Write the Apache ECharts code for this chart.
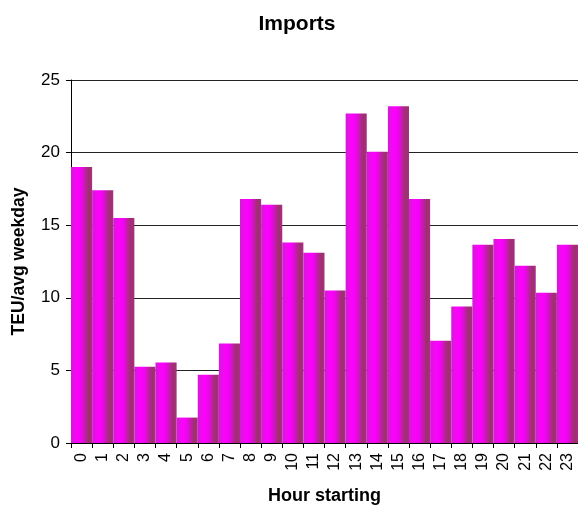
<!DOCTYPE html>
<html>
<head>
<meta charset="utf-8">
<script src="https://cdn.jsdelivr.net/npm/echarts@6/dist/echarts.min.js"></script>
<style>
html,body{margin:0;padding:0;background:#fff;}
#chart{width:578px;height:506px;}
</style>
</head>
<body>
<div id="chart"></div>
<script>
// Hourly imports, TEU per average weekday
const hours = ['0','1','2','3','4','5','6','7','8','9','10','11','12','13','14','15','16','17','18','19','20','21','22','23'];
const teu = [19.0, 17.4, 15.5, 5.25, 5.55, 1.75, 4.7, 6.85, 16.8, 16.4, 13.8, 13.1, 10.5, 22.7, 20.05, 23.2, 16.8, 7.05, 9.4, 13.65, 14.05, 12.2, 10.35, 13.65];
const yTicks = { min: 0, max: 25, step: 5 };

const font = 'Liberation Sans, Arial, sans-serif';
const barFill = new echarts.graphic.LinearGradient(0, 0, 1, 0, [
  { offset: 0, color: '#d01ed0' },
  { offset: 0.3, color: '#ff00ff' },
  { offset: 0.5, color: '#ec06ec' },
  { offset: 0.85, color: '#993366' },
  { offset: 1, color: '#b0288f' }
]);

const chart = echarts.init(document.getElementById('chart'));
chart.setOption({
  animation: false,
  title: {
    text: 'Imports', left: 292, top: 9, textAlign: 'center',
    textStyle: { fontFamily: font, fontSize: 21, fontWeight: 'bold', color: '#000' }
  },
  grid: { left: 71, right: 0, top: 80, bottom: 63, containLabel: false, outerBoundsMode: 'none' },
  xAxis: {
    type: 'category', data: hours,
    name: 'Hour starting', nameLocation: 'middle', nameGap: 44,
    nameTextStyle: { fontFamily: font, fontSize: 18, fontWeight: 'bold', color: '#000' },
    axisLine: { lineStyle: { color: '#000', width: 1 } },
    axisTick: { show: true, length: 5, lineStyle: { color: '#000' } },
    axisLabel: { rotate: 90, margin: 10, interval: 0, fontFamily: font, fontSize: 16, color: '#000' }
  },
  yAxis: {
    type: 'value', min: yTicks.min, max: yTicks.max, interval: yTicks.step,
    name: 'TEU/avg weekday', nameLocation: 'middle', nameGap: 43,
    nameTextStyle: { fontFamily: font, fontSize: 17.5, fontWeight: 'bold', color: '#000' },
    axisLine: { show: true, lineStyle: { color: '#000', width: 1 } },
    axisTick: { show: true, length: 5, lineStyle: { color: '#000' } },
    axisLabel: { margin: 11, fontFamily: font, fontSize: 17, color: '#000' },
    splitLine: { show: true, lineStyle: { color: '#222', width: 1 } }
  },
  series: [{
    type: 'bar', data: teu, barWidth: '100%', barGap: '0%',
    itemStyle: { color: barFill }
  }]
});
</script>
</body>
</html>
